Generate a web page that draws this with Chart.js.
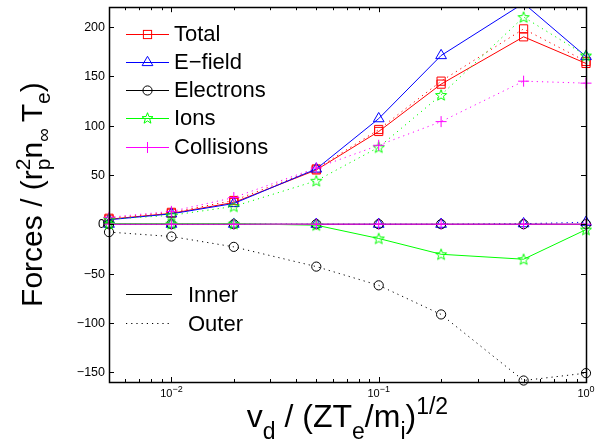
<!DOCTYPE html>
<html>
<head>
<meta charset="utf-8">
<script src="https://cdn.jsdelivr.net/npm/chart.js"></script>
<style>
html,body{margin:0;padding:0;background:#fff;}
#wrap{width:604px;height:446px;position:relative;}
</style>
</head>
<body>
<div id="wrap"><canvas id="c" width="604" height="446"></canvas></div>
<script>
// ---- data ----
const vd = [0.005, 0.01, 0.02, 0.05, 0.1, 0.2, 0.5, 1];
const totalInner = [5, 11, 22, 55, 94, 142, 190, 163];
const totalOuter = [6, 12, 24, 56, 96, 145, 198, 165];
const efieldInner = [4.5, 10.5, 21, 56, 107, 171, 224, 170];
const efieldOuter = [0, 0, 0, 0, 0, 0, 0.5, 2];
const electronsInner = [0, 0, 0, 0, 0, 0, 0, 0];
const electronsOuter = [-8, -12.5, -23, -43, -62, -91.5, -158.5, -151];
const ionsInner = [0.5, 0.5, 0.5, -1, -14.5, -30.5, -35.5, -5.5];
const ionsOuter = [5, 9, 18, 44, 78, 131, 210, 171];
const collisionsInner = [0, 0, 0, 0, 0, 0, 0, 0];
const collisionsOuter = [7, 13, 27, 57, 80, 104, 145, 143];
const yTicks = [-150, -100, -50, 0, 50, 100, 150, 200];
const xMajorTicks = [0.01, 0.1, 1];
const xTickExp = ['\u22122', '\u22121', '0'];
const legendNames = ['Total', 'E\u2212field', 'Electrons', 'Ions', 'Collisions'];
const styleNames = ['Inner', 'Outer'];

const colors = ['#ff0000', '#0000ff', '#000000', '#00ff00', '#ff00ff'];
const FONT = '"Liberation Sans", Arial, Helvetica, sans-serif';

function starPath(ctx, x, y, r) {
  const ri = r * 0.42;
  ctx.beginPath();
  for (let i = 0; i < 10; i++) {
    const ang = -Math.PI / 2 + i * Math.PI / 5;
    const rr = i % 2 === 0 ? r : ri;
    const px = x + rr * Math.cos(ang), py = y + rr * Math.sin(ang);
    if (i === 0) ctx.moveTo(px, py); else ctx.lineTo(px, py);
  }
  ctx.closePath();
}
function makeStar(color, r) {
  const s = Math.ceil(r * 2 + 4);
  const c = document.createElement('canvas');
  c.width = s; c.height = s;
  const g = c.getContext('2d');
  g.strokeStyle = color; g.lineWidth = 1;
  starPath(g, s / 2, s / 2 + 0.5, r);
  g.stroke();
  return c;
}
const starImg = makeStar('#00ff00', 5.8);

const markers = [
  {style: 'rect', r: 5.8},
  {style: 'triangle', r: 6.2},
  {style: 'circle', r: 4.6},
  {style: starImg, r: 6},
  {style: 'cross', r: 5.5}
];

const series = [
  [totalInner, totalOuter],
  [efieldInner, efieldOuter],
  [electronsInner, electronsOuter],
  [ionsInner, ionsOuter],
  [collisionsInner, collisionsOuter]
];

const datasets = [];
let ord = 100;
series.forEach((pair, i) => {
  pair.forEach((vals, j) => {
    datasets.push({
      label: legendNames[i] + ' ' + styleNames[j],
      data: vd.map((x, k) => ({x: x, y: vals[k]})),
      borderColor: colors[i],
      backgroundColor: 'rgba(0,0,0,0)',
      borderWidth: 1,
      borderDash: j === 1 ? [1.2, 4] : [],
      pointStyle: markers[i].style,
      pointRadius: markers[i].r,
      pointBorderWidth: 1,
      pointBorderColor: colors[i],
      pointBackgroundColor: 'rgba(0,0,0,0)',
      tension: 0,
      fill: false,
      order: ord--,
      clip: {left: 10, right: 10, top: (i === 1 && j === 0) ? 0 : 10, bottom: 10}
    });
  });
});

function drawMarker(ctx, i, x, y) {
  const c = colors[i];
  ctx.save();
  ctx.strokeStyle = c; ctx.lineWidth = 1;
  const m = markers[i];
  if (i === 0) { const h = m.r * Math.SQRT1_2; ctx.strokeRect(x - h, y - h, 2 * h, 2 * h); }
  else if (i === 1) {
    const r = m.r;
    ctx.beginPath();
    ctx.moveTo(x, y - r);
    ctx.lineTo(x + r * Math.cos(Math.PI / 6), y + r * 0.5);
    ctx.lineTo(x - r * Math.cos(Math.PI / 6), y + r * 0.5);
    ctx.closePath(); ctx.stroke();
  }
  else if (i === 2) { ctx.beginPath(); ctx.arc(x, y, m.r, 0, 2 * Math.PI); ctx.stroke(); }
  else if (i === 3) { starPath(ctx, x, y, 5.8); ctx.stroke(); }
  else { ctx.beginPath(); ctx.moveTo(x - m.r, y); ctx.lineTo(x + m.r, y); ctx.moveTo(x, y - m.r); ctx.lineTo(x, y + m.r); ctx.stroke(); }
  ctx.restore();
}

function runWidth(ctx, parts) {
  let w = 0;
  parts.forEach(p => { ctx.font = p.size + 'px ' + FONT; w += (p.adv === 0 ? 0 : ctx.measureText(p.t).width); });
  return w;
}
function drawRun(ctx, parts, x, y) {
  let cx = x;
  parts.forEach(p => {
    ctx.font = p.size + 'px ' + FONT;
    ctx.fillText(p.t, cx, y + (p.dy || 0));
    const w = ctx.measureText(p.t).width;
    if (p.adv !== 0) cx += w;
  });
}

const decor = {
  id: 'decor',
  afterDatasetsDraw(chart) {
    const ctx = chart.ctx, a = chart.chartArea;
    const xs = chart.scales.x, ys = chart.scales.y;
    ctx.save();
    ctx.strokeStyle = '#000'; ctx.fillStyle = '#000';
    // axes box
    ctx.lineWidth = 1.5;
    ctx.strokeRect(Math.round(a.left) + 0.5, Math.round(a.top) + 0.5, Math.round(a.right - a.left), Math.round(a.bottom - a.top));
    ctx.lineWidth = 1;
    // y ticks
    ctx.font = '12.5px ' + FONT;
    ctx.textAlign = 'right'; ctx.textBaseline = 'middle';
    yTicks.forEach(v => {
      const py = Math.round(ys.getPixelForValue(v)) + 0.5;
      ctx.beginPath();
      ctx.moveTo(a.left, py); ctx.lineTo(a.left + 5, py);
      ctx.moveTo(a.right, py); ctx.lineTo(a.right - 5, py);
      ctx.stroke();
      ctx.fillText(v < 0 ? '\u2212' + Math.abs(v) : String(v), a.left - 4, py);
    });
    // x ticks (major & minor)
    for (let e = -3; e <= 0; e++) {
      for (let m = 1; m <= 9; m++) {
        const v = m * Math.pow(10, e);
        if (v < xs.min - 1e-9 || v > xs.max + 1e-9) continue;
        const px = Math.round(xs.getPixelForValue(v)) + 0.5;
        const len = m === 1 ? 5 : 3;
        ctx.beginPath();
        ctx.moveTo(px, a.bottom); ctx.lineTo(px, a.bottom - len);
        ctx.moveTo(px, a.top); ctx.lineTo(px, a.top + len);
        ctx.stroke();
      }
    }
    ctx.textAlign = 'left'; ctx.textBaseline = 'alphabetic';
    xMajorTicks.forEach((v, k) => {
      const px = xs.getPixelForValue(v);
      const parts = [{t: '10', size: 11}, {t: xTickExp[k], size: 9, dy: -5}];
      const w = runWidth(ctx, parts);
      drawRun(ctx, parts, px - w / 2, a.bottom + 15);
    });
    // x label
    const xl = [
      {t: 'v', size: 32}, {t: 'd', size: 23, dy: 12},
      {t: ' / (ZT', size: 32}, {t: 'e', size: 23, dy: 12},
      {t: '/m', size: 32}, {t: 'i', size: 23, dy: 12},
      {t: ')', size: 32}, {t: '1/2', size: 23, dy: -13}
    ];
    const xw = runWidth(ctx, xl);
    drawRun(ctx, xl, (a.left + a.right) / 2 - xw / 2, 427);
    // y label
    ctx.save();
    const yl = [
      {t: 'Forces / (r', size: 30},
      {t: '2', size: 21, dy: -12, adv: 0},
      {t: 'p', size: 21, dy: 8},
      {t: 'n', size: 30}, {t: '\u221e', size: 19, dy: 8},
      {t: '\u2009T', size: 30}, {t: 'e', size: 21, dy: 8},
      {t: ')', size: 30}
    ];
    const yw = runWidth(ctx, yl);
    ctx.translate(42, (a.top + a.bottom) / 2);
    ctx.rotate(-Math.PI / 2);
    drawRun(ctx, yl, -yw / 2, 0);
    ctx.restore();
    // legend 1
    ctx.textBaseline = 'middle'; ctx.textAlign = 'left';
    ctx.font = '22px ' + FONT;
    legendNames.forEach((n, i) => {
      const y = 33.5 + i * 28.3;
      ctx.save();
      ctx.strokeStyle = colors[i]; ctx.lineWidth = 1;
      ctx.beginPath(); ctx.moveTo(126, Math.round(y) + 0.5); ctx.lineTo(169, Math.round(y) + 0.5); ctx.stroke();
      ctx.restore();
      drawMarker(ctx, i, 147.5, Math.round(y) + 0.5);
      ctx.fillStyle = '#000';
      ctx.fillText(n, 174, y + 1);
    });
    // legend 2
    styleNames.forEach((n, j) => {
      const y = Math.round(294 + j * 29) + 0.5;
      ctx.save();
      ctx.strokeStyle = '#000'; ctx.lineWidth = 1;
      ctx.setLineDash(j === 1 ? [1.2, 4] : []);
      ctx.beginPath(); ctx.moveTo(126, y); ctx.lineTo(172, y); ctx.stroke();
      ctx.restore();
      ctx.fillText(n, 188, y + 1);
    });
    ctx.restore();
  }
};

new Chart(document.getElementById('c'), {
  type: 'line',
  data: {datasets: datasets},
  options: {
    responsive: false,
    animation: false,
    devicePixelRatio: 1,
    layout: {padding: {left: 109, right: 18, top: 5, bottom: 64}},
    plugins: {legend: {display: false}, tooltip: {enabled: false}},
    scales: {
      x: {type: 'logarithmic', min: 0.005, max: 1, display: false},
      y: {type: 'linear', min: -160, max: 220, display: false}
    }
  },
  plugins: [decor]
});
</script>
</body>
</html>
